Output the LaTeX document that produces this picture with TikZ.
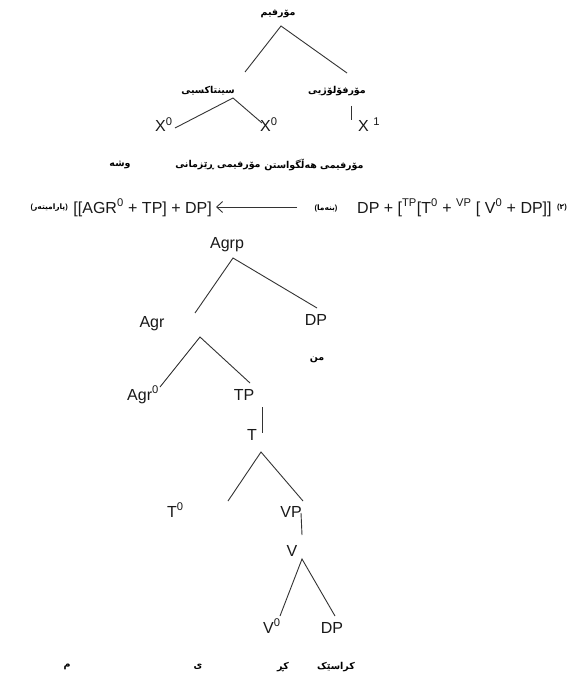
\documentclass[tikz,border=0pt]{standalone}
\usepackage{fontspec}
\setmainfont{Liberation Sans}
\newfontfamily\kufont[Script=Arabic]{DejaVu Sans}
\newfontfamily\parfont{Liberation Sans}
\TeXXeTstate=1
\usetikzlibrary{arrows.meta}
\tikzset{
  lat/.style={font=\fontsize{16}{18}\selectfont, inner sep=0pt, text=black!90, anchor=base},
  latw/.style={lat, anchor=base west},
  kur/.style={font=\kufont\bfseries\fontsize{9.5}{12}\selectfont, inner sep=0pt, text=black},
  kursmall/.style={font=\kufont\bfseries\fontsize{7.5}{9}\selectfont, inner sep=0pt, text=black},
  branch/.style={line width=0.9pt, draw=black!80},
}
\newcommand{\sps}[1]{\textsuperscript{#1}}
\newcommand{\lpar}{{\parfont\bfseries(}}
\newcommand{\rpar}{{\parfont\bfseries)}}
\begin{document}
\begin{tikzpicture}[x=1pt,y=-1pt]
\useasboundingbox[fill=white] (0,0) rectangle (571,676);

% ---------- top tree ----------
\node[kur] (morf) at (278,14) {\beginR مۆرفیم\endR};
\node[kur] (sint) at (208,91) {\beginR سینتاکسیی\endR};
\node[kur] (morfo) at (337,91) {\beginR مۆرفۆلۆژیی\endR};
\node[latw] (x0a) at (155,132) {X\sps{0}};
\node[latw] (x0b) at (260,132) {X\sps{0}};
\node[latw] (x1) at (358,132) {X \sps{1}};
\node[kur] (wsha) at (120,165) {\beginR وشە\endR};
\node[kur] (rezm) at (218,165) {\beginR مۆرفیمی ڕێزمانی\endR};
\node[kur] (helg) at (314,165) {\beginR مۆرفیمی هەڵگواستن\endR};

\coordinate (a1) at (281,26);
\coordinate (a1l) at (245,72);
\coordinate (a1r) at (347,73);
\coordinate (a2) at (233,98);
\coordinate (a2l) at (175,128);
\coordinate (a2r) at (262,123);
\coordinate (a3t) at (351,106);
\coordinate (a3b) at (351,120);
\draw[branch] (a1l) -- (a1) -- (a1r);
\draw[branch] (a2l) -- (a2) -- (a2r);
\draw[branch] (a3t) -- (a3b);

% ---------- formula line ----------
\node[kursmall, anchor=east] (param) at (68,208) {\lpar\beginR پارامیتەر\endR\rpar};
\node[lat, anchor=base east] (lhs) at (212,213) {[[AGR\sps{0} + TP] + DP]};
\coordinate (arrE) at (297,207);
\coordinate (arrW) at (216,207);
\draw[branch, -{Straight Barb[length=6pt,width=11pt]}] (arrE) -- (arrW);
\node[kursmall] (bnema) at (326,208) {\lpar\beginR بنەما\endR\rpar};
\node[latw] (rhs) at (357,213) {DP + [\sps{TP}[T\sps{0} + \sps{VP} [ V\sps{0} + DP]]};
\node[kursmall] (num) at (562,208) {\lpar{\kufont\bfseries ٢}\rpar};

% ---------- lower tree ----------
\node[lat] (agrp) at (227,248) {Agrp};
\node[lat] (agr) at (152,327) {Agr};
\node[lat] (dp1) at (316,325) {DP};
\node[kur] (min) at (317,360) {\beginR من\endR};
\node[latw] (agr0) at (127,400) {Agr\sps{0}};
\node[lat] (tp) at (244,400) {TP};
\node[lat] (tbar) at (252,440) {T};
\node[latw] (t0) at (167,517) {T\sps{0}};
\node[lat] (vp) at (291,517) {VP};
\node[lat] (vbar) at (292,556) {V};
\node[latw] (v0) at (263,633) {V\sps{0}};
\node[lat] (dp2) at (332,633) {DP};

\coordinate (b1) at (233,258);
\coordinate (b1l) at (195,313);
\coordinate (b1r) at (317,308);
\coordinate (b2) at (200,337);
\coordinate (b2l) at (160,387);
\coordinate (b2r) at (250,383);
\coordinate (b3t) at (262,407);
\coordinate (b3b) at (262,433);
\coordinate (b4) at (261,452);
\coordinate (b4l) at (228,501);
\coordinate (b4r) at (303,501);
\coordinate (b5t) at (301,513);
\coordinate (b5b) at (302,535);
\coordinate (b6) at (302,559);
\coordinate (b6l) at (280,616);
\coordinate (b6r) at (335,616);
\draw[branch] (b1l) -- (b1) -- (b1r);
\draw[branch] (b2l) -- (b2) -- (b2r);
\draw[branch] (b3t) -- (b3b);
\draw[branch] (b4l) -- (b4) -- (b4r);
\draw[branch] (b5t) -- (b5b);
\draw[branch] (b6l) -- (b6) -- (b6r);

% ---------- bottom words ----------
\node[kur] (wm) at (67,667) {\beginR م\endR};
\node[kur] (wy) at (198,667) {\beginR ی\endR};
\node[kur] (wkr) at (283,667) {\beginR کڕ\endR};
\node[kur] (wkras) at (336,667) {\beginR کراسێک\endR};
\end{tikzpicture}
\end{document}
